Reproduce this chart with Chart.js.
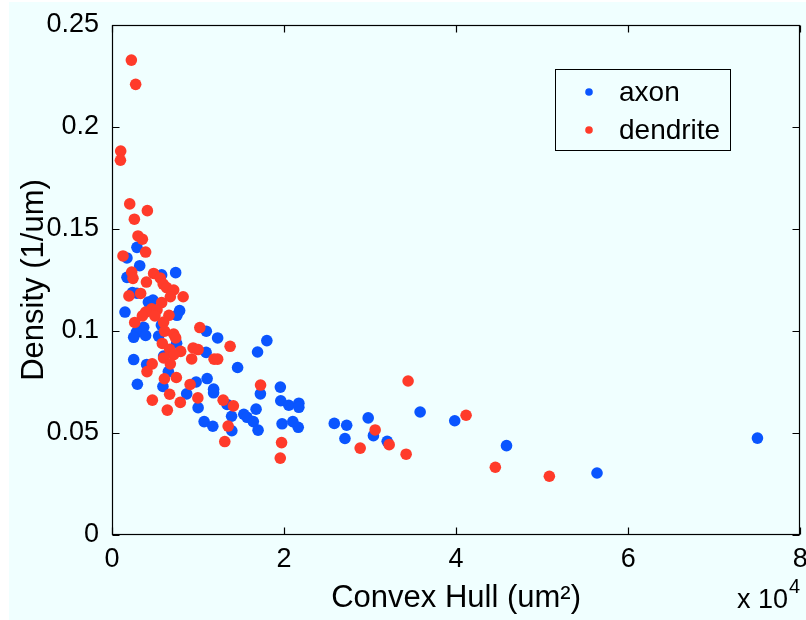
<!DOCTYPE html>
<html>
<head>
<meta charset="utf-8">
<script src="https://cdn.jsdelivr.net/npm/chart.js@4.4.0/dist/chart.umd.min.js"></script>
<style>
  html, body { margin: 0; padding: 0; background: #fff; }
  #wrap { width: 806px; height: 620px; }
</style>
</head>
<body>
<div id="wrap"><canvas id="c" width="806" height="620"></canvas></div>
<script>
// axon: convex hull area (um^2) and density (1/um)
const axonX = [2900, 1740, 3220, 5770, 7400, 1740, 2370, 2900, 4230, 4760, 1510, 7860, 7550, 3680, 5740,
  10960, 12280, 2830, 2520, 3910, 5420, 18000, 16920, 7510, 10940, 6000, 2520, 4030, 14600, 6550,
  2950, 5920, 9780, 11060, 8680, 11810, 11810, 10010, 13380, 13900, 10710, 11720, 13930, 17250, 16750,
  15320, 15700, 16430, 16980, 19570, 19620, 20550, 21720, 21720, 19770, 21020, 21650, 25840, 27280, 27080,
  35820, 29780, 30390, 31990, 39840, 45860, 56380, 75030];
const axonY = [0.141, 0.1358, 0.132, 0.1275, 0.1286, 0.1263, 0.1188, 0.1185, 0.1142, 0.1152, 0.1093, 0.11, 0.1077, 0.1018, 0.1029,
  0.0999, 0.0966, 0.0993, 0.0969, 0.0978, 0.0975, 0.0953, 0.0897, 0.094, 0.0895, 0.0877, 0.086, 0.0836, 0.0821, 0.0801,
  0.0739, 0.0728, 0.075, 0.0767, 0.0692, 0.0715, 0.0697, 0.0624, 0.064, 0.0582, 0.0556, 0.0533, 0.0511, 0.0692, 0.0617,
  0.0592, 0.0577, 0.0556, 0.0514, 0.0725, 0.0658, 0.0636, 0.0646, 0.0626, 0.0545, 0.0556, 0.0528, 0.0547, 0.0538, 0.0473,
  0.0603, 0.0574, 0.0487, 0.0459, 0.056, 0.0438, 0.0304, 0.0475];

// dendrite
const dendX = [2250, 2750, 1010, 980, 2060, 4110, 2600, 3020, 3530, 3910, 1280, 4840, 2290, 2440, 4000,
  5600, 5950, 6350, 7170, 6780, 8270, 3330, 1970, 5770, 4610, 3910, 5230, 6620, 3530, 4990,
  2640, 6000, 10210, 6120, 7170, 7400, 13730, 5850, 9430, 10010, 6700, 7980, 7170, 9260, 11870,
  12280, 4670, 6000, 6780, 4070, 6090, 7480, 9080, 6700, 4690, 7940, 9980, 6430, 12920, 14110,
  13500, 13110, 17270, 19710, 19560, 34420, 30590, 28850, 32220, 34190, 41160, 44560, 50840];
const dendY = [0.2328, 0.2209, 0.1882, 0.1837, 0.1623, 0.159, 0.1548, 0.1466, 0.145, 0.1387, 0.1368, 0.1282, 0.1289, 0.1258, 0.124,
  0.126, 0.123, 0.1213, 0.1201, 0.1168, 0.1168, 0.1184, 0.1172, 0.1139, 0.1109, 0.1093, 0.1103, 0.1077, 0.1074, 0.1074,
  0.1042, 0.1044, 0.1017, 0.0999, 0.0985, 0.0966, 0.0925, 0.0939, 0.0917, 0.0909, 0.091, 0.09, 0.0884, 0.0863, 0.0862,
  0.0862, 0.0839, 0.0868, 0.0839, 0.0801, 0.0766, 0.0772, 0.0738, 0.069, 0.0661, 0.065, 0.0672, 0.0612, 0.0661, 0.0633,
  0.0534, 0.0458, 0.0735, 0.0453, 0.0377, 0.0755, 0.0515, 0.0426, 0.0443, 0.0396, 0.0587, 0.0332, 0.0288];

const seriesNames = ['axon', 'dendrite'];
const xTicks = [0, 20000, 40000, 60000, 80000];
const yTicks = [0, 0.05, 0.1, 0.15, 0.2, 0.25];

const BLUE = '#0a55ff';
const RED = '#ff3b2a';
const BG = '#f0ffff';
const FONT = '"Liberation Sans", Arial, Helvetica, sans-serif';
const FS = 27;      // tick labels
const TFS = 31;     // axis titles
const LFS = 28;     // legend

function pts(xs, ys) {
  return xs.map((x, i) => ({ x, y: ys[i] }));
}

// matlab-style frame, inward ticks, exponent label and legend
const matlabFrame = {
  id: 'matlabFrame',
  beforeDraw(chart) {
    const ctx = chart.ctx;
    ctx.save();
    ctx.fillStyle = BG;
    ctx.fillRect(9, 2, chart.width, chart.height);
    ctx.restore();
  },
  afterDraw(chart) {
    const { ctx, chartArea: a, scales } = chart;
    const L = Math.round(a.left) + 0.5, R = Math.round(a.right) - 0.5;
    const T = Math.round(a.top) + 0.5, B = Math.round(a.bottom) - 0.5;
    const tl = 7;
    ctx.save();
    ctx.strokeStyle = '#000';
    ctx.lineWidth = 1.2;
    ctx.strokeRect(L, T, R - L, B - T);
    ctx.beginPath();
    xTicks.forEach(v => {
      const px = Math.round(scales.x.getPixelForValue(v)) + 0.5;
      ctx.moveTo(px, B); ctx.lineTo(px, B - tl);
      ctx.moveTo(px, T); ctx.lineTo(px, T + tl);
    });
    yTicks.forEach(v => {
      const py = Math.round(scales.y.getPixelForValue(v)) + 0.5;
      ctx.moveTo(L, py); ctx.lineTo(L + tl, py);
      ctx.moveTo(R, py); ctx.lineTo(R - tl, py);
    });
    ctx.stroke();

    // x 10^4
    ctx.fillStyle = '#000';
    ctx.textBaseline = 'middle';
    ctx.textAlign = 'left';
    ctx.font = FS + 'px ' + FONT;
    ctx.fillText('x 10', 737, 601);
    const w = ctx.measureText('x 10').width;
    ctx.font = Math.round(FS * 0.75) + 'px ' + FONT;
    ctx.fillText('4', 737 + w + 1, 587);

    // legend
    const lx = 555.5, ly = 69.5, lw = 175, lh = 81;
    ctx.fillStyle = BG;
    ctx.fillRect(lx, ly, lw, lh);
    ctx.lineWidth = 1;
    ctx.strokeRect(lx, ly, lw, lh);
    const rows = [[seriesNames[0], BLUE, 92], [seriesNames[1], RED, 130]];
    rows.forEach(([name, col, y]) => {
      ctx.fillStyle = col;
      ctx.beginPath();
      ctx.arc(589, y, 3.8, 0, Math.PI * 2);
      ctx.fill();
      ctx.fillStyle = '#000';
      ctx.font = LFS + 'px ' + FONT;
      ctx.fillText(name, 619, y + 1);
    });
    ctx.restore();
  }
};

new Chart(document.getElementById('c'), {
  type: 'scatter',
  data: {
    datasets: [
      { label: seriesNames[0], data: pts(axonX, axonY), backgroundColor: BLUE, borderWidth: 0, pointRadius: 5.8, order: 2 },
      { label: seriesNames[1], data: pts(dendX, dendY), backgroundColor: RED, borderWidth: 0, pointRadius: 5.8, order: 1 }
    ]
  },
  options: {
    responsive: false,
    animation: false,
    devicePixelRatio: 1,
    layout: { padding: { left: 0, top: 25, right: 5, bottom: 0 } },
    plugins: { legend: { display: false }, tooltip: { enabled: false } },
    scales: {
      x: {
        type: 'linear', min: 0, max: 80000,
        afterBuildTicks: s => { s.ticks = xTicks.map(v => ({ value: v })); },
        afterFit: s => { s.height = 85; s.paddingLeft = 0; s.paddingRight = 0; },
        grid: { display: false },
        border: { display: false },
        ticks: { color: '#000', font: { family: FONT, size: FS }, padding: 0, maxRotation: 0,
                 callback: v => String(v / 10000) },
        title: { display: true, text: 'Convex Hull (um²)', color: '#000',
                 font: { family: FONT, size: TFS }, padding: { top: 0, bottom: 3 } }
      },
      y: {
        type: 'linear', min: 0, max: 0.25,
        afterBuildTicks: s => { s.ticks = yTicks.map(v => ({ value: v })); },
        afterFit: s => { s.width = 112; },
        grid: { display: false },
        border: { display: false },
        ticks: { color: '#000', font: { family: FONT, size: FS }, padding: 5,
                 callback: v => v === 0 ? '0' : String(+v.toFixed(2)) },
        title: { display: true, text: 'Density (1/um)', color: '#000',
                 font: { family: FONT, size: TFS }, padding: { top: 16, bottom: 0 } }
      }
    }
  },
  plugins: [matlabFrame]
});
</script>
</body>
</html>
